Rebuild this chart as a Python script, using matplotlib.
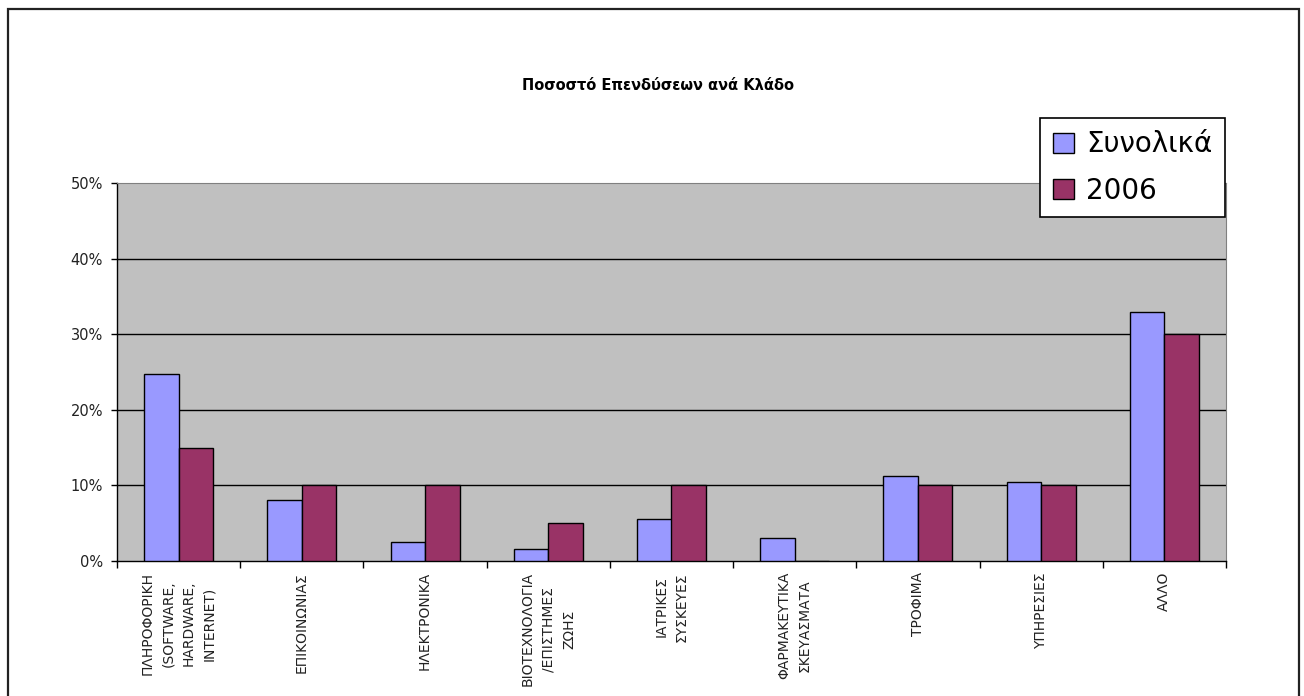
import numpy as np
import matplotlib.pyplot as plt
from matplotlib.patches import Rectangle
from matplotlib.ticker import FuncFormatter, FixedLocator

plt.rcParams['font.family'] = ['DejaVu Sans']

# Κλάδοι και ποσοστά επενδύσεων
categories = [
    'ΠΛΗΡΟΦΟΡΙΚΗ\n(SOFTWARE,\nHARDWARE,\nINTERNET)',
    'ΕΠΙΚΟΙΝΩΝΙΑΣ',
    'ΗΛΕΚΤΡΟΝΙΚΑ',
    'ΒΙΟΤΕΧΝΟΛΟΓΙΑ\n/ΕΠΙΣΤΗΜΕΣ\nΖΩΗΣ',
    'ΙΑΤΡΙΚΕΣ\nΣΥΣΚΕΥΕΣ',
    'ΦΑΡΜΑΚΕΥΤΙΚΑ\nΣΚΕΥΑΣΜΑΤΑ',
    'ΤΡΟΦΙΜΑ',
    'ΥΠΗΡΕΣΙΕΣ',
    'ΑΛΛΟ',
]
total = [24.7, 8.1, 2.5, 1.6, 5.5, 3.0, 11.2, 10.5, 33.0]
year_2006 = [15.0, 10.0, 10.0, 5.0, 10.0, 0.0, 10.0, 10.0, 30.0]
series_labels = ['Συνολικά', '2006']
y_ticks = [0, 10, 20, 30, 40, 50]

W, H = 1304, 696
fig = plt.figure(figsize=(W / 100, H / 100), dpi=100)

# outer border of the chart object
fig.patches.append(Rectangle((8 / W, -0.05), (1299 - 8) / W, 1.05 - 9 / H,
                             transform=fig.transFigure, fill=False,
                             edgecolor='#222222', linewidth=1.6))

ax = fig.add_axes([117 / W, 1 - 561 / H, (1226 - 117) / W, (561 - 183) / H])
ax.set_facecolor('#C0C0C0')

x = np.arange(len(categories))
bw = 0.28
ax.bar(x - bw / 2, total, bw, color='#9999FF', edgecolor='black',
       linewidth=1.0, label=series_labels[0], zorder=3)
ax.bar(x + bw / 2, year_2006, bw, color='#993366', edgecolor='black',
       linewidth=1.0, label=series_labels[1], zorder=3)

ax.set_xlim(-0.5, len(categories) - 0.5)
ax.set_ylim(0, 50)
ax.set_yticks(y_ticks)
ax.yaxis.set_major_formatter(FuncFormatter(lambda v, p: f'{v:.0f}%'))
for v in y_ticks[1:-1]:
    ax.axhline(v, color='black', linewidth=1.0, zorder=1)

# tick marks between categories, labels in the middle
ax.xaxis.set_major_locator(FixedLocator(np.arange(-0.5, len(categories), 1.0)))
ax.xaxis.set_major_formatter(FuncFormatter(lambda v, p: ''))
ax.xaxis.set_minor_locator(FixedLocator(x))
ax.set_xticklabels(categories, minor=True, rotation=90, va='top', ha='center',
                   multialignment='center', linespacing=1.6,
                   fontsize=10, color='#222222')
ax.tick_params(axis='x', which='minor', length=0, pad=8)
ax.tick_params(axis='x', which='major', direction='out', length=5, width=1.0)
ax.tick_params(axis='y', direction='out', length=4, width=1.0,
               labelsize=10.5, labelcolor='#222222', pad=6)

for s in ['left', 'bottom']:
    ax.spines[s].set_color('black')
    ax.spines[s].set_linewidth(1.0)
for s in ['top', 'right']:
    ax.spines[s].set_color('#808080')
    ax.spines[s].set_linewidth(0.8)

fig.text(658 / W, 1 - 86 / H, 'Ποσοστό Επενδύσεων ανά Κλάδο',
         ha='center', va='center', fontsize=10.5, fontweight='bold')

leg = fig.legend(loc='upper right', bbox_to_anchor=(1225 / W, 1 - 118 / H),
                 borderaxespad=0, fancybox=False, framealpha=1,
                 edgecolor='black', fontsize=20, handlelength=0.75,
                 handleheight=0.75, handletextpad=0.45, labelspacing=0.65,
                 borderpad=0.45)
leg.get_frame().set_linewidth(1.2)
leg.set_zorder(10)

fig.savefig('out.png', dpi=100)
